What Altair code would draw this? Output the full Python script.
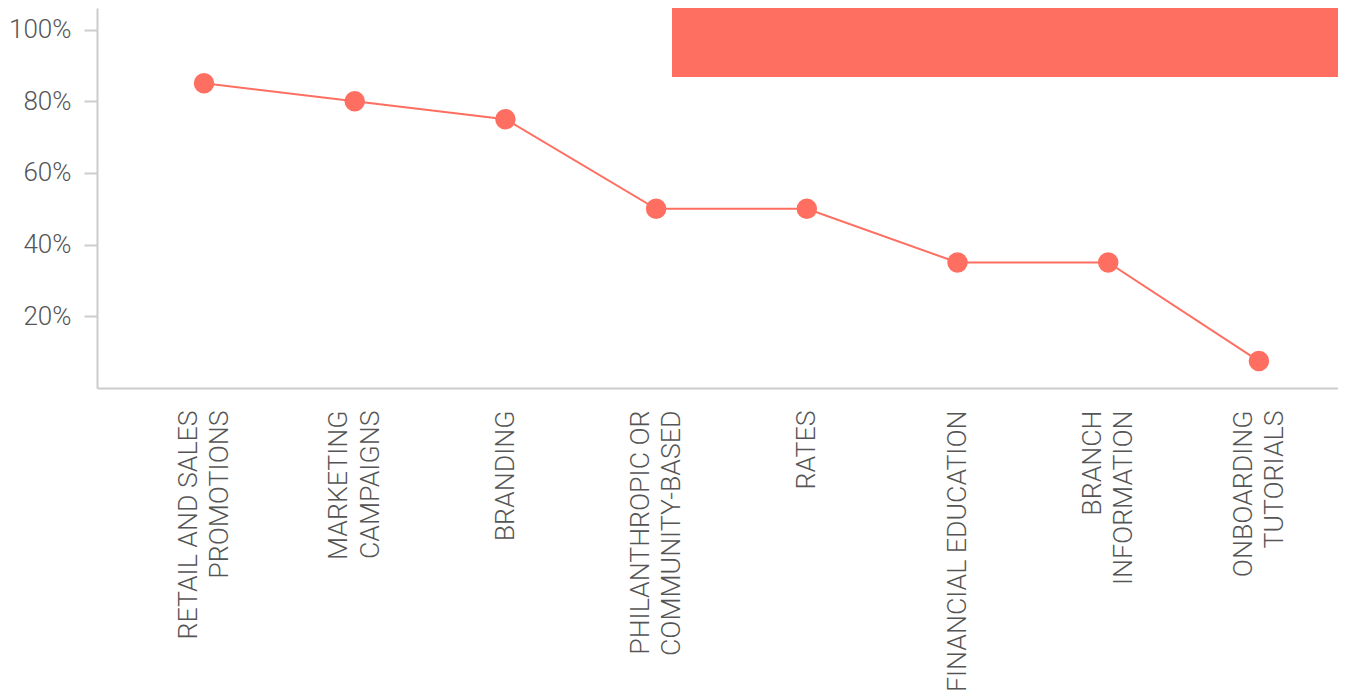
import altair as alt
import pandas as pd

categories = [
    "RETAIL AND SALES|PROMOTIONS",
    "MARKETING|CAMPAIGNS",
    "BRANDING",
    "PHILANTHROPIC OR|COMMUNITY-BASED",
    "RATES",
    "FINANCIAL EDUCATION",
    "BRANCH|INFORMATION",
    "ONBOARDING|TUTORIALS",
]
values = [0.85, 0.80, 0.75, 0.50, 0.50, 0.35, 0.35, 0.075]
y_ticks = [0.2, 0.4, 0.6, 0.8, 1.0]

df = pd.DataFrame({"category": categories, "value": values})

COLOR = "#FF6F61"
W = 1241
H = 380
LINE_H = 31.5

x = alt.X(
    "category:N",
    sort=categories,
    scale=alt.Scale(type="point", padding=0.6175, align=0.575),
    axis=alt.Axis(
        title=None,
        labelAngle=-90,
        labelExpr="split(datum.label, '|')",
        labelFontSize=26.7,
        labelLineHeight=LINE_H,
        labelLimit=600,
        labelPadding=22,
        labelOffset={
            "condition": {"test": "indexof(datum.value, '|') >= 0", "value": -LINE_H / 2},
            "value": 0,
        },
        ticks=False,
        domainColor="#cccccc",
        domainWidth=2,
    ),
)
y = alt.Y(
    "value:Q",
    scale=alt.Scale(domain=[0, 1.06], nice=False),
    axis=alt.Axis(
        title=None,
        values=y_ticks,
        format=".0%",
        grid=False,
        labelFontSize=26,
        tickSize=13,
        tickColor="#cccccc",
        tickWidth=2,
        labelPadding=13,
        domainColor="#cccccc",
        domainWidth=2,
    ),
)

base = alt.Chart(df)
line = base.mark_line(color=COLOR, strokeWidth=2).encode(x=x, y=y)
points = base.mark_point(filled=True, color=COLOR, opacity=1, size=420).encode(x=x, y=y)

banner = alt.Chart(pd.DataFrame({"k": [0]})).mark_rect(color=COLOR).encode(
    x=alt.value(575), x2=alt.value(W), y=alt.value(0), y2=alt.value(69)
)

chart = (
    alt.layer(line, points, banner)
    .properties(
        width=W,
        height=H,
        autosize=alt.AutoSizeParams(type="none"),
        padding={"left": 89, "top": 0, "right": 0, "bottom": 304},
    )
    .configure_view(stroke=None)
    .configure_axis(
        labelFont="Roboto",
        labelFontWeight=300,
        labelColor="#555555",
    )
)

chart.save("out.html", embed_options={"renderer": "svg", "actions": False})
